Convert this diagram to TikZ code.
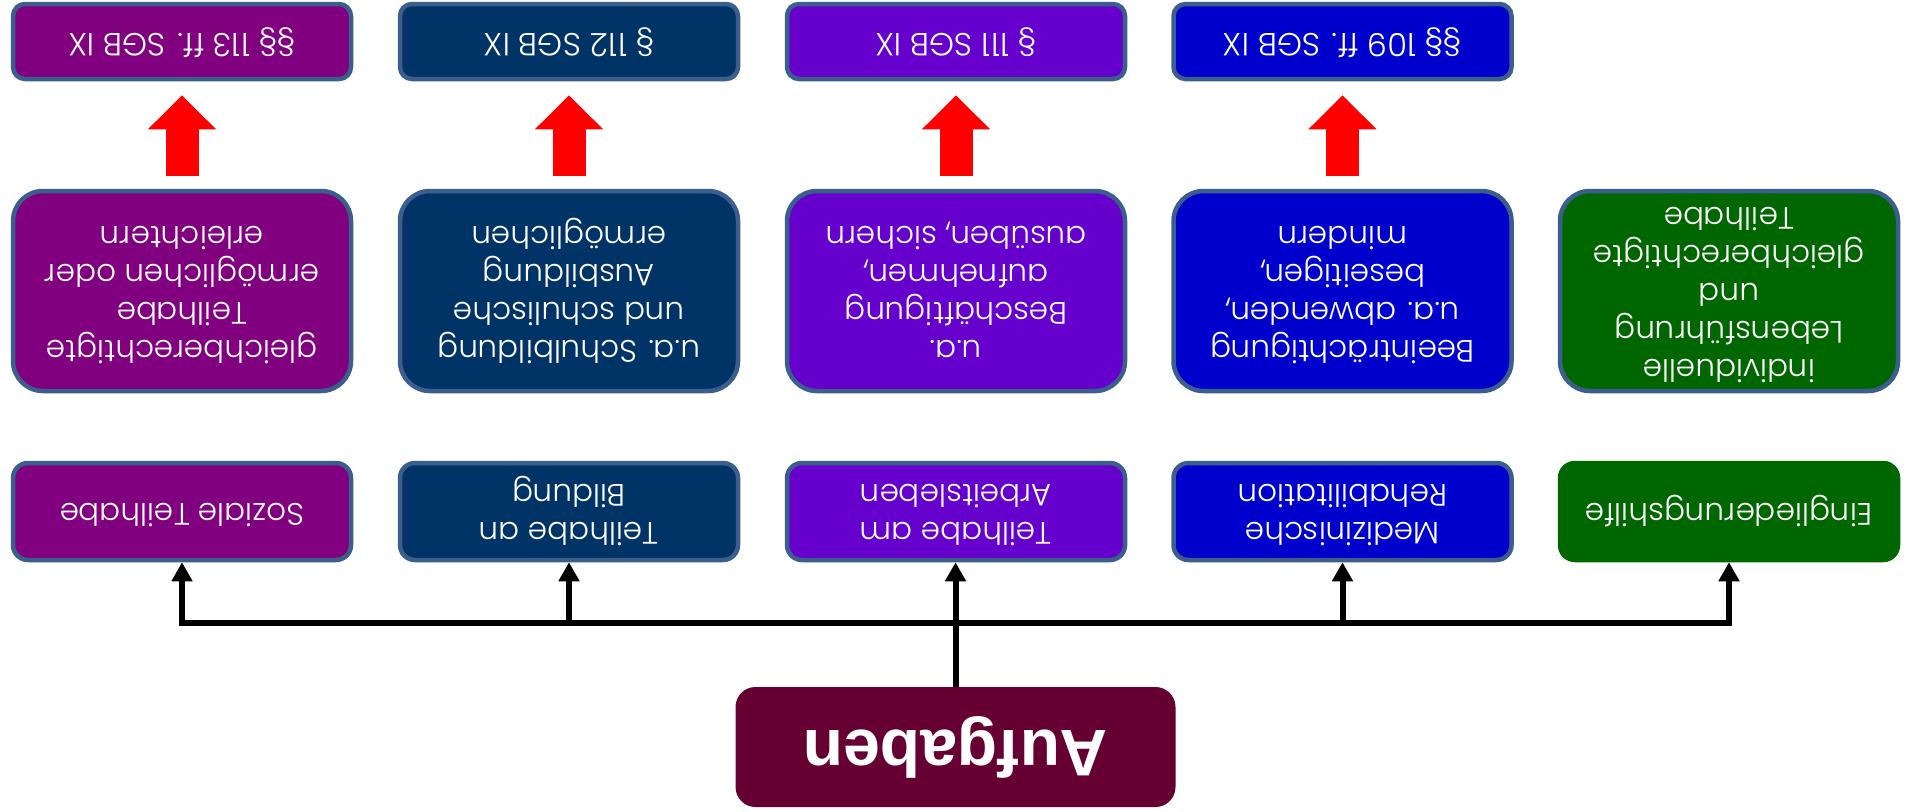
\documentclass[tikz,border=0pt]{standalone}
\usepackage{fontspec}
\usepackage{graphicx}
\setmainfont{Poppins}[UprightFont=* Light]
\newfontfamily\aufgfont{Liberation Sans}
\usetikzlibrary{arrows.meta}
\definecolor{cA}{HTML}{800080}
\definecolor{cB}{HTML}{003366}
\definecolor{cC}{HTML}{6600CC}
\definecolor{cD}{HTML}{0000CC}
\definecolor{cE}{HTML}{006600}
\definecolor{bord}{HTML}{3B5E8C}
\definecolor{aufg}{HTML}{660033}
\newcommand{\flip}[1]{\rotatebox{180}{\begin{tabular}{@{}c@{}}#1\end{tabular}}}
\tikzset{
  anybox/.style={draw=bord, line width=4.5pt, text=white, inner sep=0pt,
    minimum width=338pt, font=\fontsize{31}{38}\selectfont},
  topbox/.style={anybox, rounded corners=12pt, minimum height=75pt, font=\fontsize{32}{38}\selectfont},
  midbox/.style={anybox, rounded corners=30pt, minimum height=200pt},
  botbox/.style={anybox, rounded corners=15pt, minimum height=97pt},
  aufbox/.style={fill=aufg, rounded corners=20pt, minimum width=440pt, minimum height=120pt,
    text=white, font=\aufgfont\bfseries\fontsize{66}{70}\selectfont},
  busline/.style={line width=6pt, line cap=rect},
  conn/.style={line width=6pt, -{Triangle[width=20pt,length=19pt]}},
  redarrow/.style={draw=red, line width=33pt, -{Triangle[width=66pt,length=34pt]},
    shorten <=13pt, shorten >=14pt}
}
\begin{document}
\begin{tikzpicture}[x=1pt,y=-1pt]
\useasboundingbox (0,0) rectangle (1910,811);
% top row
\node[topbox, fill=cA] (tA) at (182,41.5) {\flip{§§ 113 ff. SGB IX}};
\node[topbox, fill=cB] (tB) at (569,41.5) {\flip{§ 112 SGB IX}};
\node[topbox, fill=cC] (tC) at (956,41.5) {\flip{§ 111 SGB IX}};
\node[topbox, fill=cD] (tD) at (1342.5,41.5) {\flip{§§ 109 ff. SGB IX}};
% middle row
\node[midbox, fill=cA] (mA) at (182,291) {\flip{gleichberechtigte\\Teilhabe\\ermöglichen oder\\erleichtern}};
\node[midbox, fill=cB] (mB) at (569,291) {\flip{u.a. Schulbildung\\und schulische\\Ausbildung\\ermöglichen}};
\node[midbox, fill=cC] (mC) at (956,291) {\flip{u.a.\\Beschäftigung\\aufnehmen,\\ausüben, sichern}};
\node[midbox, fill=cD] (mD) at (1342.5,291) {\flip{Beeinträchtigung\\u.a. abwenden,\\beseitigen,\\mindern}};
\node[midbox, fill=cE] (mE) at (1729,291) {\flip{individuelle\\Lebensführung\\und\\gleichberechtigte\\Teilhabe}};
% bottom row
\node[botbox, fill=cA] (bA) at (182,511.5) {\flip{Soziale Teilhabe}};
\node[botbox, fill=cB] (bB) at (569,511.5) {\flip{Teilhabe an\\Bildung}};
\node[botbox, fill=cC] (bC) at (956,511.5) {\flip{Teilhabe am\\Arbeitsleben}};
\node[botbox, fill=cD] (bD) at (1342.5,511.5) {\flip{Medizinische\\Rehabilitation}};
\node[botbox, fill=cE, draw=cE] (bE) at (1729,511.5) {\flip{Eingliederungshilfe}};
% Aufgaben
\node[aufbox] (auf) at (955.5,747) {\rotatebox{180}{Aufgaben}};
% red arrows
\foreach \c in {A,B,C,D} {
  \draw[redarrow] (m\c.north) -- (t\c.south);
}
% connectors
\coordinate (bus) at (956,623);
\draw[busline] (bA.south |- bus) -- (bE.south |- bus);
\draw[conn] (auf.north) -- (auf.north |- bC.south);
\foreach \c in {A,B,D,E} {
  \draw[conn] (b\c.south |- bus) -- (b\c.south);
}
\end{tikzpicture}
\end{document}
